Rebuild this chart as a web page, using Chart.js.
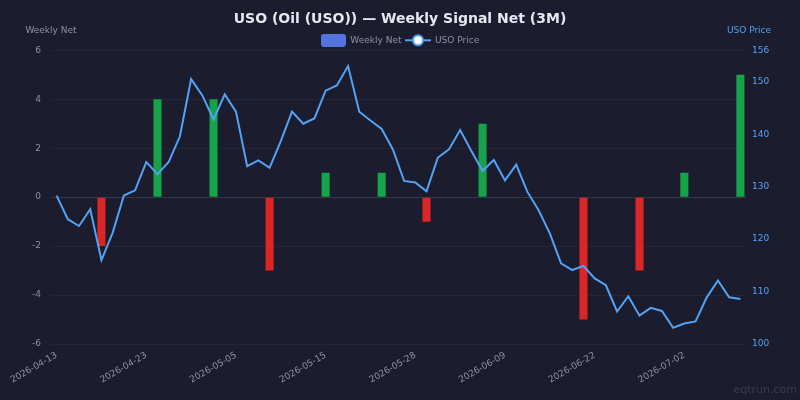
<!DOCTYPE html>
<html>
<head>
<meta charset="utf-8">
<script src="https://cdn.jsdelivr.net/npm/chart.js@4.4.1/dist/chart.umd.min.js"></script>
<style>
html, body { margin: 0; padding: 0; background: #1b1c2e; }
</style>
</head>
<body>
<canvas id="myChart" width="800" height="400"></canvas>
<script>
// trading days (category axis)
var dates = [
	"2026-04-13", "2026-04-14", "2026-04-15", "2026-04-16", "2026-04-17",
	"2026-04-20", "2026-04-21", "2026-04-22", "2026-04-23", "2026-04-24",
	"2026-04-27", "2026-04-28", "2026-04-29", "2026-04-30", "2026-05-01",
	"2026-05-04", "2026-05-05", "2026-05-06", "2026-05-07", "2026-05-08",
	"2026-05-11", "2026-05-12", "2026-05-13", "2026-05-14", "2026-05-15",
	"2026-05-18", "2026-05-19", "2026-05-20", "2026-05-21", "2026-05-22",
	"2026-05-26", "2026-05-27", "2026-05-28", "2026-05-29",
	"2026-06-01", "2026-06-02", "2026-06-03", "2026-06-04", "2026-06-05",
	"2026-06-08", "2026-06-09", "2026-06-10", "2026-06-11", "2026-06-12",
	"2026-06-15", "2026-06-16", "2026-06-17", "2026-06-18",
	"2026-06-22", "2026-06-23", "2026-06-24", "2026-06-25", "2026-06-26",
	"2026-06-29", "2026-06-30", "2026-07-01", "2026-07-02",
	"2026-07-06", "2026-07-07", "2026-07-08", "2026-07-09", "2026-07-10"
];

var prices = [
	128.3, 123.8, 122.5, 125.7, 116.0, 121.2, 128.3, 129.3, 134.7, 132.4,
	134.7, 139.6, 150.5, 147.4, 142.8, 147.6, 144.3, 133.9, 135.0, 133.6,
	138.7, 144.3, 142.0, 143.0, 148.3, 149.3, 153.0, 144.3, 142.6, 141.0,
	137.1, 131.1, 130.8, 129.1, 135.5, 137.1, 140.8, 136.8, 133.0, 135.1,
	131.2, 134.2, 129.0, 125.5, 121.1, 115.4, 114.1, 114.9, 112.5, 111.2,
	106.2, 109.1, 105.4, 106.9, 106.3, 103.1, 103.9, 104.3, 108.9, 112.1,
	108.9, 108.6
];

// weekly signal net, placed on the last trading day of each week
var weekDates = [
	"2026-04-17", "2026-04-24", "2026-05-01", "2026-05-08", "2026-05-15",
	"2026-05-22", "2026-05-29", "2026-06-05", "2026-06-12", "2026-06-18",
	"2026-06-26", "2026-07-02", "2026-07-10"
];
var weekNet = [-2, 4, 4, -3, 1, 1, -1, 3, 0, -5, -3, 1, 5];

var netTicks = [-6, -4, -2, 0, 2, 4, 6];
var priceTicks = [100, 110, 120, 130, 140, 150, 156];

var netByDay = dates.map(function(d) {
	var i = weekDates.indexOf(d);
	return i < 0 ? null : weekNet[i];
});
var barColors = netByDay.map(function(v) {
	return v !== null && v < 0 ? "#dc2626" : "#16a34a";
});

var bg = "#1b1c2e";
var lineColor = "#52a2f5";
var muted = "#8d90a6";

function boxIcon() {
	var c = document.createElement("canvas");
	c.width = 25; c.height = 13;
	var g = c.getContext("2d");
	var r = 3;
	g.fillStyle = "#5274dc";
	g.beginPath();
	g.moveTo(r, 0); g.lineTo(25 - r, 0); g.arcTo(25, 0, 25, r, r);
	g.lineTo(25, 13 - r); g.arcTo(25, 13, 25 - r, 13, r);
	g.lineTo(r, 13); g.arcTo(0, 13, 0, 13 - r, r);
	g.lineTo(0, r); g.arcTo(0, 0, r, 0, r);
	g.fill();
	return c;
}

function lineIcon() {
	var c = document.createElement("canvas");
	c.width = 26; c.height = 14;
	var g = c.getContext("2d");
	g.strokeStyle = lineColor;
	g.lineWidth = 2;
	g.beginPath(); g.moveTo(0, 7); g.lineTo(26, 7); g.stroke();
	g.fillStyle = "#ffffff";
	g.beginPath(); g.arc(13, 7, 5, 0, Math.PI * 2); g.fill(); g.stroke();
	return c;
}

var extras = {
	id: "extras",
	beforeDraw: function(chart) {
		var ctx = chart.ctx;
		ctx.save();
		ctx.fillStyle = bg;
		ctx.fillRect(0, 0, chart.width, chart.height);
		ctx.restore();
	},
	afterDraw: function(chart) {
		var ctx = chart.ctx, a = chart.chartArea;
		ctx.save();
		ctx.font = "9px 'DejaVu Sans'";
		ctx.textAlign = "center";
		ctx.textBaseline = "middle";
		ctx.fillStyle = muted;
		ctx.fillText("Weekly Net", a.left, a.top - 20);
		ctx.fillStyle = lineColor;
		ctx.fillText("USO Price", a.right + 3, a.top - 20);
		ctx.font = "11px 'DejaVu Sans'";
		ctx.textAlign = "right";
		ctx.fillStyle = "rgba(255,255,255,0.13)";
		ctx.fillText("eqtrun.com", chart.width - 3, chart.height - 10);
		ctx.restore();
	}
};

Chart.defaults.font.family = "'DejaVu Sans', sans-serif";

var mixedChart = new Chart("myChart", {
	type: "bar",
	data: {
		labels: dates,
		datasets: [{
			label: "Weekly Net",
			data: netByDay,
			backgroundColor: barColors,
			borderWidth: 0,
			yAxisID: "y",
			order: 1
		}, {
			label: "USO Price",
			type: "line",
			data: prices,
			borderColor: lineColor,
			borderWidth: 2,
			pointRadius: 0,
			tension: 0,
			yAxisID: "y1",
			// line on top of the bars
			order: 0
		}]
	},
	options: {
		responsive: false,
		animation: false,
		layout: { padding: 0 },
		plugins: {
			title: {
				display: true,
				text: "USO (Oil (USO)) \u2014 Weekly Signal Net (3M)",
				color: "#e6e7ef",
				font: { size: 14, weight: "bold" },
				padding: { top: 11, bottom: 4 }
			},
			legend: {
				display: true,
				maxHeight: 18.5,
				labels: {
					usePointStyle: true,
					pointStyleWidth: 25,
					padding: 4,
					font: { size: 9 },
					color: muted,
					generateLabels: function() {
						return [
							{ text: "Weekly Net", pointStyle: boxIcon(), fontColor: muted, lineWidth: 0, hidden: false, datasetIndex: 0 },
							{ text: "USO Price", pointStyle: lineIcon(), fontColor: muted, lineWidth: 0, hidden: false, datasetIndex: 1 }
						];
					}
				}
			},
			tooltip: { enabled: false }
		},
		scales: {
			x: {
				grid: { display: false, drawTicks: false },
				border: { display: false },
				afterFit: function(s) { s.height = 56; },
				ticks: {
					autoSkip: false,
					maxRotation: 30,
					minRotation: 30,
					padding: 6,
					color: muted,
					font: { size: 9 },
					callback: function(value, index) {
						return index % 8 === 0 ? this.getLabelForValue(value) : null;
					}
				}
			},
			y: {
				position: "left",
				min: -6,
				max: 6,
				afterBuildTicks: function(s) { s.ticks = netTicks.map(function(v) { return { value: v }; }); },
				afterFit: function(s) { s.width = 51; },
				border: { display: false },
				grid: {
					drawTicks: false,
					color: function(c) { return c.tick && c.tick.value === 0 ? "rgba(255,255,255,0.12)" : "rgba(255,255,255,0.045)"; }
				},
				ticks: { padding: 10, color: muted, font: { size: 9 } }
			},
			y1: {
				position: "right",
				min: 100,
				max: 156,
				afterBuildTicks: function(s) { s.ticks = priceTicks.map(function(v) { return { value: v }; }); },
				afterFit: function(s) { s.width = 54; },
				border: { display: false },
				grid: { display: false, drawTicks: false },
				ticks: { padding: 6, color: lineColor, font: { size: 9 } }
			}
		}
	},
	plugins: [extras]
});
</script>
</body>
</html>
